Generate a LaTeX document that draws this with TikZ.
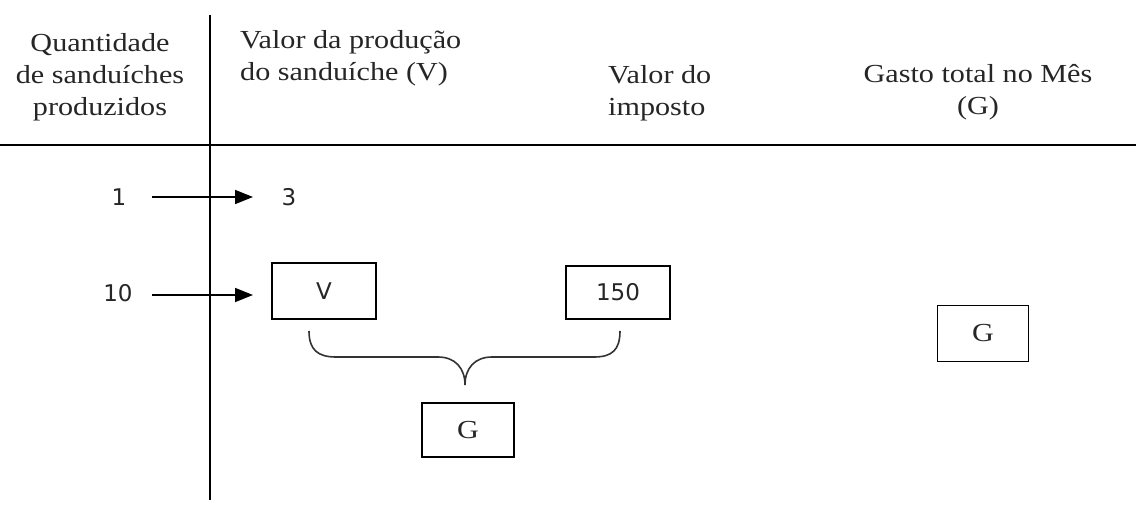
\documentclass[tikz,border=0pt]{standalone}
\usepackage{fontspec}
\setmainfont[FakeStretch=1.16]{Liberation Serif}
\newfontfamily\numfont{DejaVu Sans}
\usetikzlibrary{arrows.meta}
\begin{document}
\begin{tikzpicture}[x=1pt,y=-1pt,
  hd/.style={anchor=base, inner sep=0pt, text=black!85, font=\fontsize{26}{32}\selectfont},
  hdw/.style={hd, anchor=base west},
  num/.style={anchor=base, inner sep=0pt, text=black!85, font=\numfont\fontsize{23}{27}\selectfont},
  bx/.style={draw, line width=1.7pt, inner sep=0pt},
  bxs/.style={bx, text=black!85, font=\numfont\fontsize{23}{27}\selectfont},
  bxr/.style={bx, text=black!85, font=\fontsize{26}{32}\selectfont},
  arr/.style={line width=1.6pt, -{Triangle[length=18pt,width=14pt]}},
  rulel/.style={line width=1.9pt},
  bracel/.style={line width=1.6pt, draw=black!80}]
\useasboundingbox (0,0) rectangle (1136,506);
\fill[white] (0,0) rectangle (1136,506);
% rules
\coordinate (vt) at (210,15);
\coordinate (vb) at (210,500);
\coordinate (hl) at (0,145);
\coordinate (hr) at (1136,145);
\draw[rulel] (vt) -- (vb);
\draw[rulel] (hl) -- (hr);
% headers
\node[hd] (q1) at (100,51) {Quantidade};
\node[hd] (q2) at (100,83) {de sanduíches};
\node[hd] (q3) at (100,115) {produzidos};
\node[hdw] (v1) at (240,48) {Valor da produção};
\node[hdw] (v2) at (240,80) {do sanduíche (V)};
\node[hdw] (i1) at (608,83) {Valor do};
\node[hdw] (i2) at (608,115) {imposto};
\node[hd] (g1) at (978,82) {Gasto total no Mês};
\node[hd] (g2) at (978,114) {(G)};
% row 1
\node[num] (n1) at (119,205) {1};
\node[num] (n3) at (289,205) {3};
\coordinate (a1s) at (152,197);
\coordinate (a1e) at (253,197);
\draw[arr] (a1s) -- (a1e);
% row 2
\node[num] (n10) at (118,301) {10};
\coordinate (a2s) at (152,295);
\coordinate (a2e) at (253,295);
\draw[arr] (a2s) -- (a2e);
\node[bxs, minimum width=104pt, minimum height=56pt] (V) at (324,291) {V};
\node[bxs, minimum width=104pt, minimum height=53pt] (imp) at (618,292.5) {150};
\node[bxr, minimum width=92pt, minimum height=54pt] (G1) at (468,430) {G};
\node[bxr, minimum width=91pt, minimum height=56pt] (G2) at (983,333.5) {G};
% brace
\coordinate (bl) at (309,331);
\coordinate (br) at (620,331);
\coordinate (bt) at (465,385);
\draw[bracel] (bl) .. controls (309,350) and (318,357) .. (336,357) -- (438,357)
  .. controls (455,357) and (465,368) .. (bt)
  .. controls (465,368) and (475,357) .. (492,357) -- (594,357)
  .. controls (612,357) and (620,350) .. (br);
\end{tikzpicture}
\end{document}
